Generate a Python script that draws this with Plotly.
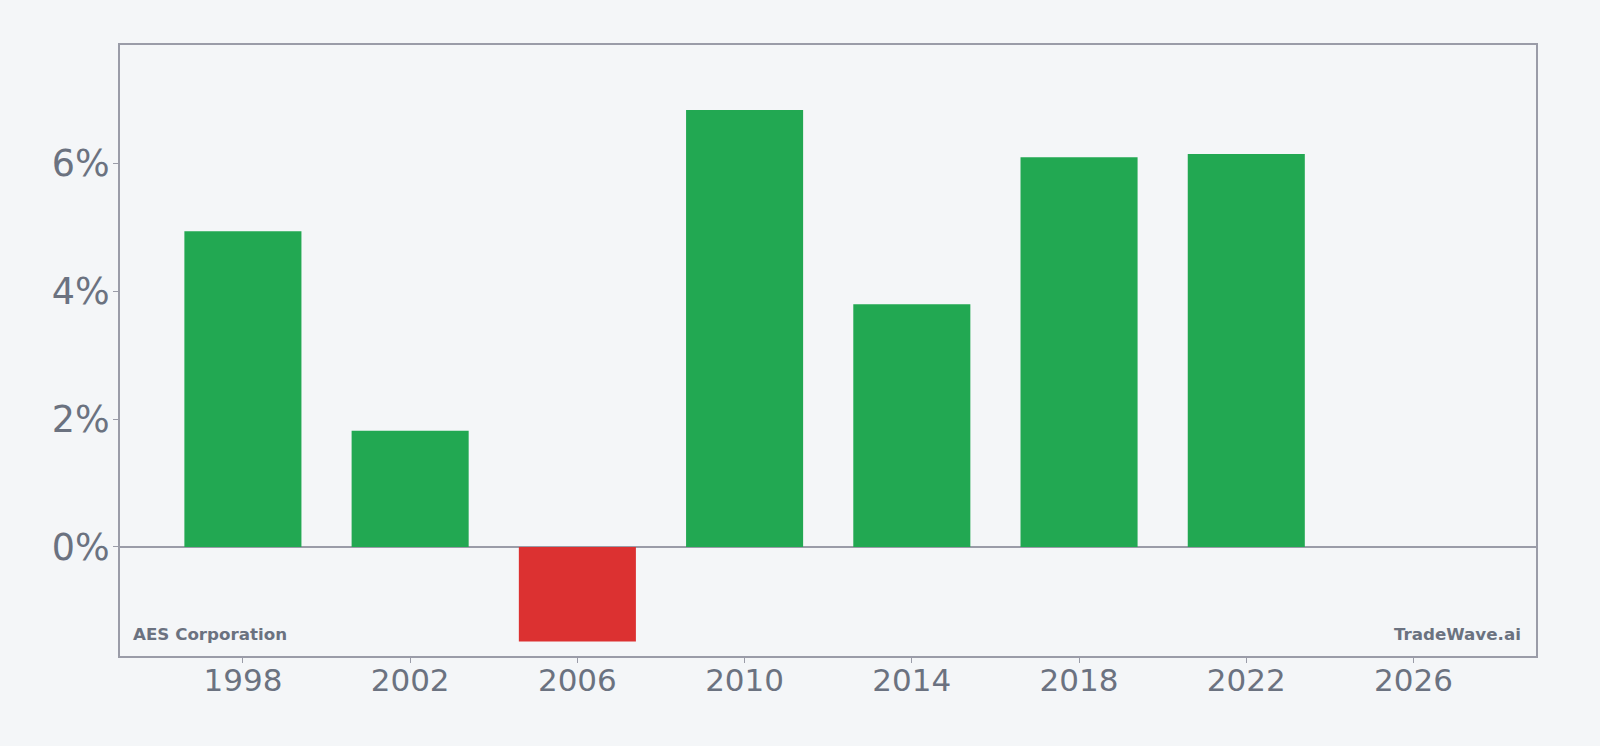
import plotly.graph_objects as go

years = [1998, 2002, 2006, 2010, 2014, 2018, 2022]
values = [4.94, 1.82, -1.48, 6.84, 3.80, 6.10, 6.15]
x_ticks = [1998, 2002, 2006, 2010, 2014, 2018, 2022, 2026]
y_ticks = [0, 2, 4, 6]
y_tick_labels = ["0%", "2%", "4%", "6%"]

GREEN = "#22a852"
RED = "#dc3131"
BG = "#f4f6f8"
FRAME = "#9a9ca8"
TEXT = "#6b7280"

colors = [GREEN if v >= 0 else RED for v in values]

fig = go.Figure(
    go.Bar(x=years, y=values, width=2.8, marker=dict(color=colors, line=dict(width=0)))
)

fig.update_layout(
    width=1600, height=746,
    paper_bgcolor=BG, plot_bgcolor=BG,
    margin=dict(l=120, r=64, t=45, b=90),
    showlegend=False,
    font=dict(family="DejaVu Sans", color=TEXT),
)
fig.update_xaxes(
    range=[1995.06, 2028.93],
    tickvals=x_ticks, ticktext=[str(t) for t in x_ticks],
    tickfont=dict(size=31, color=TEXT),
    showgrid=False, zeroline=False,
    showline=True, linecolor=FRAME, linewidth=2, mirror=True,
    ticks="outside", ticklen=5, tickcolor=FRAME, tickwidth=1,
    ticklabelstandoff=-9,
)
fig.update_yaxes(
    range=[-1.706, 7.856],
    tickvals=y_ticks, ticktext=y_tick_labels,
    tickfont=dict(size=36.5, color=TEXT),
    showgrid=False, zeroline=True, zerolinecolor=FRAME, zerolinewidth=2,
    showline=True, linecolor=FRAME, linewidth=2, mirror=True,
    ticks="outside", ticklen=5, tickcolor=FRAME, tickwidth=1,
    ticklabelstandoff=-4,
)

fig.add_annotation(
    text="<b>AES Corporation</b>", xref="paper", yref="paper",
    x=0.008, y=0.017, xanchor="left", yanchor="bottom", showarrow=False,
    font=dict(size=16.7, color=TEXT, family="DejaVu Sans"),
)
fig.add_annotation(
    text="<b>TradeWave.ai</b>", xref="paper", yref="paper",
    x=0.991, y=0.017, xanchor="right", yanchor="bottom", showarrow=False,
    font=dict(size=16.7, color=TEXT, family="DejaVu Sans"),
)

fig.write_html("out.html")
